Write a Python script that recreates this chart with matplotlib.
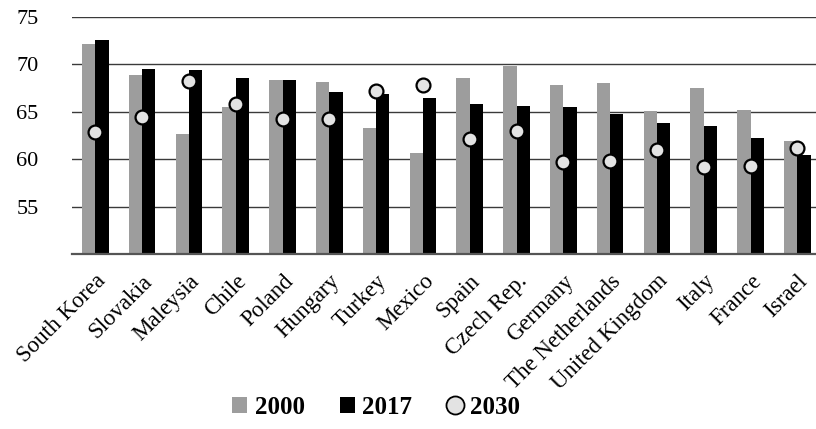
import matplotlib
matplotlib.use("Agg")
import matplotlib.pyplot as plt
from matplotlib.lines import Line2D
from matplotlib.patches import Patch
import numpy as np

countries = ["South Korea", "Slovakia", "Maleysia", "Chile", "Poland", "Hungary",
             "Turkey", "Mexico", "Spain", "Czech Rep.", "Germany", "The Netherlands",
             "United Kingdom", "Italy", "France", "Israel"]
v2000 = [72.2, 68.9, 62.7, 65.5, 68.4, 68.1, 63.3, 60.7, 68.6, 69.8, 67.8, 68.0,
         65.1, 67.5, 65.2, 61.9]
v2017 = [72.6, 69.5, 69.4, 68.6, 68.4, 67.1, 66.9, 66.5, 65.8, 65.6, 65.5, 64.8,
         63.8, 63.5, 62.2, 60.4]
v2030 = [62.9, 64.4, 68.3, 65.8, 64.2, 64.2, 67.2, 67.8, 62.1, 63.0, 59.7, 59.8,
         61.0, 59.2, 59.3, 61.2]
yticks = [55, 60, 65, 70, 75]
series_names = ["2000", "2017", "2030"]

plt.rcParams["font.family"] = ["Liberation Serif", "DejaVu Serif"]

fig = plt.figure(figsize=(8.16, 4.29), dpi=100)
ax = fig.add_axes([72 / 816, 1 - 254 / 429, 744 / 816, (254 - 17) / 429])

x = np.arange(len(countries))
w = 0.284
gray = "#9d9d9d"
ax.bar(x - w / 2, v2000, width=w, color=gray, zorder=2)
ax.bar(x + w / 2, v2017, width=w, color="black", zorder=2)
ax.plot(x, v2030, linestyle="none", marker="o", markersize=10,
        markerfacecolor="#e3e3e3", markeredgecolor="black", markeredgewidth=1.6,
        zorder=3)

ax.set_ylim(50, 75)
ax.set_xlim(-0.498, -0.498 + 744 / 46.8)
ax.set_yticks(yticks)
ax.yaxis.grid(True, color="#3a3a3a", linewidth=1.0, zorder=0)
ax.set_axisbelow(True)
for s in ["left", "right", "top"]:
    ax.spines[s].set_visible(False)
ax.spines["bottom"].set_color("#555555")
ax.spines["bottom"].set_linewidth(1.6)
ax.tick_params(axis="y", length=0, labelsize=16, pad=24)
ax.tick_params(axis="x", length=0, pad=12)
ax.set_xticks(x)
ax.set_xticklabels(countries, rotation=45, ha="right", va="top",
                   rotation_mode="anchor", fontsize=16.5)

handles = [
    Patch(facecolor=gray, edgecolor="none"),
    Patch(facecolor="black", edgecolor="none"),
    Line2D([], [], linestyle="none", marker="o", markersize=13,
           markerfacecolor="#e3e3e3", markeredgecolor="black", markeredgewidth=1.3),
]
fig.legend(handles, series_names, loc="center", bbox_to_anchor=(376 / 816, 1 - 407 / 429),
           ncol=3, frameon=False, prop={"weight": "bold", "size": 18},
           handlelength=0.6, handleheight=0.6, handletextpad=0.3, columnspacing=1.4)

fig.savefig("out.png", dpi=100)
